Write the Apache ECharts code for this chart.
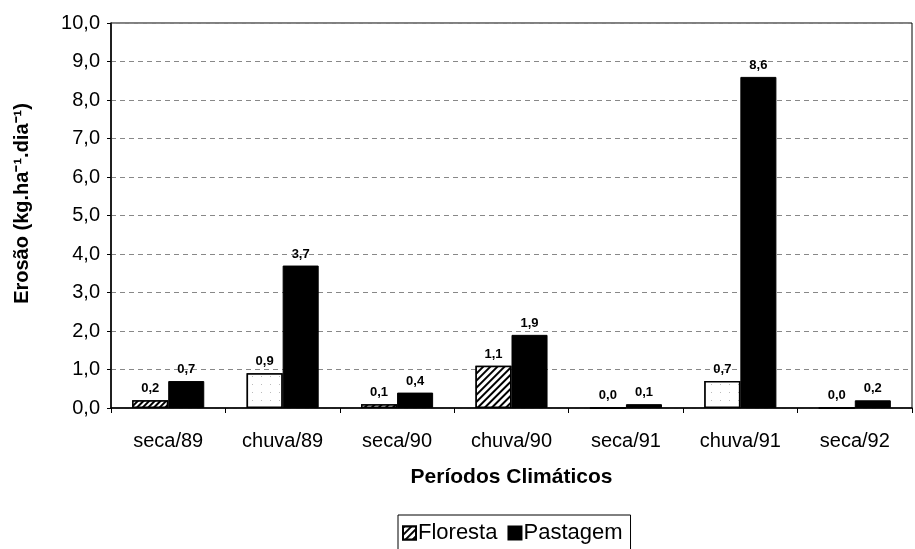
<!DOCTYPE html>
<html><head><meta charset="utf-8">
<script src="https://cdn.jsdelivr.net/npm/echarts@6/dist/echarts.min.js"></script>
<style>html,body{margin:0;padding:0;background:#fff}#c{width:915px;height:549px}</style>
</head><body><div id="c"></div>
<script>
const categories = ['seca/89','chuva/89','seca/90','chuva/90','seca/91','chuva/91','seca/92'];
const floresta = [0.2, 0.9, 0.1, 1.1, 0.0, 0.7, 0.0];
const pastagem = [0.7, 3.7, 0.4, 1.9, 0.1, 8.6, 0.2];
const yTicks = [0,1,2,3,4,5,6,7,8,9,10];

const hatch = {symbol:'rect', color:'#000', backgroundColor:'#fff', dashArrayX:[1,0], dashArrayY:[1.5,3], rotation:-Math.PI/4, symbolSize:1};
const wavy = {symbol:'rect', color:'#000', backgroundColor:'#fff', dashArrayX:[1,0], dashArrayY:[1.5,2], rotation:-Math.PI/4, symbolSize:1};
const dots = {symbol:'rect', color:'#bbb', backgroundColor:'#fff', dashArrayX:[[1,8]], dashArrayY:[1,7], symbolSize:1};
const florestaStyles = [
  {color:'#fff', borderColor:'#000', borderWidth:1.5, decal:wavy},
  {color:'#fff', borderColor:'#000', borderWidth:1.5, decal:dots},
  {color:'#222', borderColor:'#000', borderWidth:1.5},
  {color:'#fff', borderColor:'#000', borderWidth:1.5, decal:hatch},
  {color:'#fff', borderColor:'#000', borderWidth:1.5},
  {color:'#fff', borderColor:'#000', borderWidth:1.5, decal:dots},
  {color:'#fff', borderColor:'#000', borderWidth:1.5}
];
const fmt = v => v.toFixed(1).replace('.', ',');
const font = '"Liberation Sans", Arial, sans-serif';

const chart = echarts.init(document.getElementById('c'));
chart.setOption({
  animation:false,
  textStyle:{fontFamily:font},
  grid:{left:111, right:3, top:23, bottom:141, show:true, borderColor:'#000', borderWidth:1},
  legend:{
    bottom:-2, left:398, itemGap:10, itemWidth:13, itemHeight:13, icon:'rect',
    borderColor:'#000', borderWidth:1, padding:[7,8,7,4],
    textStyle:{fontFamily:font, fontSize:22, color:'#000', padding:[0,0,0,-3]},
    data:['Floresta','Pastagem']
  },
  xAxis:{
    type:'category', data:categories,
    name:'Períodos Climáticos', nameLocation:'middle', nameGap:59,
    nameTextStyle:{fontFamily:font, fontSize:21, fontWeight:'bold', color:'#000'},
    axisLine:{lineStyle:{color:'#000', width:1.5}},
    axisTick:{show:true, length:5, lineStyle:{color:'#000'}},
    axisLabel:{fontFamily:font, fontSize:20, color:'#000', margin:23}
  },
  yAxis:{
    type:'value', min:yTicks[0], max:yTicks[yTicks.length-1], interval:1,
    name:'Erosão (kg.ha⁻¹.dia⁻¹)', nameLocation:'middle', nameGap:79,
    nameTextStyle:{fontFamily:font, fontSize:20, fontWeight:'bold', color:'#000', padding:[0,0,0,24]},
    axisLine:{show:true, lineStyle:{color:'#000', width:1.5}},
    axisTick:{show:true, length:4, lineStyle:{color:'#000'}},
    axisLabel:{fontFamily:font, fontSize:20, color:'#000', margin:11, formatter:v=>fmt(v)},
    splitLine:{lineStyle:{color:'#888', type:[5,4], width:1}}
  },
  series:[
    {
      name:'Floresta', type:'bar', barGap:'0%', barCategoryGap:'37%',
      itemStyle:{color:'#fff', borderColor:'#000', borderWidth:1.5, decal:hatch},
      label:{show:true, position:'top', distance:5, fontFamily:font, fontSize:13, fontWeight:'bold', color:'#000', formatter:p=>fmt(p.value)},
      data: floresta.map((v,i)=>({value:v, itemStyle:florestaStyles[i]}))
    },
    {
      name:'Pastagem', type:'bar',
      itemStyle:{color:'#000', borderColor:'#000', borderWidth:1},
      label:{show:true, position:'top', distance:5, fontFamily:font, fontSize:13, fontWeight:'bold', color:'#000', formatter:p=>fmt(p.value)},
      data: pastagem
    }
  ]
});
</script>
</body></html>
